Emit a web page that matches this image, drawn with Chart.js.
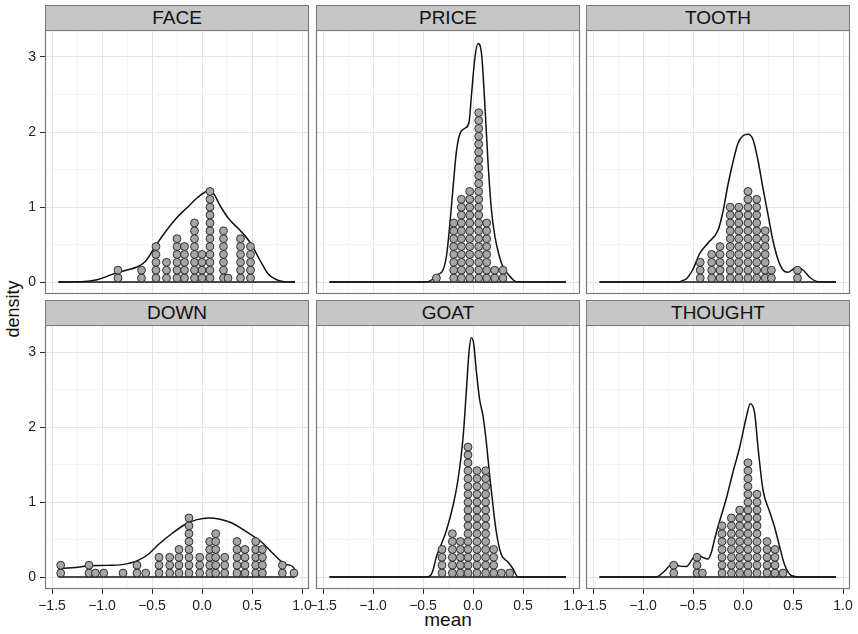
<!DOCTYPE html>
<html>
<head>
<meta charset="utf-8">
<title>density of mean by word</title>
<script src="https://cdn.jsdelivr.net/npm/chart.js@4.4.1/dist/chart.umd.min.js"></script>
<style>
  html, body { margin: 0; padding: 0; background: #ffffff; }
  #wrap { position: relative; width: 858px; height: 634px; overflow: hidden;
          font-family: "Liberation Sans", Arial, Helvetica, sans-serif; color: #111111; }
  #wrap canvas { position: absolute; left: 0; top: 0; }
  .strip { position: absolute; box-sizing: border-box; background: #c6c6c6;
           border: 1px solid #7a7a7a; font-size: 19px; line-height: 24px; text-align: center; }
  .axis-title { position: absolute; white-space: nowrap; }
</style>
</head>
<body>
<div id="wrap">
  <div class="axis-title" style="left:13px; top:309px; font-size:18px; transform: translate(-50%,-50%) rotate(-90deg);">density</div>
  <div class="axis-title" style="left:448px; top:620px; font-size:19px; transform: translate(-50%,-50%);">mean</div>
</div>
<script>
// ---- axis ranges and breaks ----
const X_MIN = -1.57, X_MAX = 1.07;
const Y_MIN = -0.16, Y_MAX = 3.36;
const X_MAJOR = [-1.5, -1.0, -0.5, 0.0, 0.5, 1.0];
const X_LABELS = ['−1.5', '−1.0', '−0.5', '0.0', '0.5', '1.0'];
const X_MINOR = [-1.25, -0.75, -0.25, 0.25, 0.75];
const Y_MAJOR = [0, 1, 2, 3];
const Y_LABELS = ['0', '1', '2', '3'];
const Y_MINOR = [0.5, 1.5, 2.5];

// height of one stacked dot, in density units
const DOT_STEP = 0.105;

// ---- FACE ----
const faceStackX = [-0.84, -0.605, -0.46, -0.355, -0.25, -0.175, -0.075, 0.0, 0.08, 0.215, 0.26, 0.385, 0.485];
const faceStackN = [2, 2, 5, 3, 6, 5, 8, 4, 12, 7, 1, 6, 5];
const faceCurveX = [-1.435, -1.2, -1.05, -0.95, -0.86, -0.75, -0.65, -0.57, -0.46, -0.36, -0.25, -0.15, -0.05, 0.02, 0.07, 0.12, 0.18, 0.27, 0.38, 0.48, 0.58, 0.66, 0.73, 0.82, 0.93];
const faceCurveY = [0, 0.005, 0.03, 0.075, 0.12, 0.16, 0.2, 0.27, 0.49, 0.68, 0.86, 0.99, 1.12, 1.19, 1.22, 1.17, 1.02, 0.84, 0.69, 0.53, 0.29, 0.11, 0.04, 0.005, 0];

// ---- PRICE ----
const priceStackX = [-0.366, -0.193, -0.116, -0.033, 0.057, 0.137, 0.217, 0.30];
const priceStackN = [1, 8, 11, 12, 22, 8, 2, 2];
const priceCurveX = [-1.435, -0.5, -0.45, -0.4, -0.35, -0.3, -0.265, -0.235, -0.2, -0.165, -0.13, -0.08, -0.04, -0.015, 0.02, 0.05, 0.085, 0.115, 0.15, 0.185, 0.22, 0.26, 0.3, 0.36, 0.43, 0.93];
const priceCurveY = [0, 0, 0.005, 0.04, 0.1, 0.16, 0.35, 0.72, 1.25, 1.75, 1.98, 2.05, 2.13, 2.5, 3.0, 3.18, 3.05, 2.45, 1.6, 0.95, 0.6, 0.36, 0.2, 0.09, 0.005, 0];

// ---- TOOTH ----
const toothStackX = [-0.428, -0.313, -0.23, -0.128, -0.042, 0.05, 0.137, 0.222, 0.284, 0.545];
const toothStackN = [3, 4, 5, 10, 10, 12, 11, 7, 2, 2];
const toothCurveX = [-1.435, -0.65, -0.6, -0.56, -0.5, -0.433, -0.35, -0.25, -0.2, -0.15, -0.1, -0.05, 0.0, 0.05, 0.1, 0.15, 0.2, 0.25, 0.3, 0.35, 0.4, 0.45, 0.5, 0.54, 0.6, 0.67, 0.75, 0.93];
const toothCurveY = [0, 0, 0.02, 0.05, 0.17, 0.38, 0.52, 0.69, 0.94, 1.3, 1.6, 1.85, 1.95, 1.97, 1.9, 1.62, 1.25, 0.9, 0.55, 0.3, 0.16, 0.13, 0.17, 0.2, 0.16, 0.06, 0.005, 0];

// ---- DOWN ----
const downStackX = [-1.413, -1.13, -1.066, -0.983, -0.79, -0.65, -0.563, -0.43, -0.323, -0.23, -0.13, -0.023, 0.077, 0.137, 0.227, 0.35, 0.43, 0.537, 0.604, 0.804, 0.92];
const downStackN = [2, 2, 1, 1, 1, 2, 1, 3, 3, 4, 8, 3, 5, 6, 3, 5, 4, 5, 4, 2, 1];
const downCurveX = [-1.435, -1.434, -1.3, -1.13, -0.95, -0.8, -0.65, -0.53, -0.43, -0.3, -0.17, -0.05, 0.07, 0.18, 0.3, 0.42, 0.6, 0.72, 0.85, 0.929, 0.93];
const downCurveY = [0, 0.1, 0.125, 0.15, 0.155, 0.165, 0.215, 0.31, 0.44, 0.58, 0.7, 0.765, 0.787, 0.77, 0.72, 0.625, 0.46, 0.3, 0.165, 0.1, 0];

// ---- GOAT ----
const goatStackX = [-0.31, -0.206, -0.126, -0.05, 0.04, 0.127, 0.207, 0.284, 0.367];
const goatStackN = [4, 6, 5, 17, 14, 14, 4, 1, 1];
const goatCurveX = [-1.435, -0.46, -0.42, -0.4, -0.366, -0.316, -0.266, -0.2, -0.15, -0.1, -0.066, -0.04, -0.016, 0.007, 0.033, 0.067, 0.1, 0.133, 0.167, 0.2, 0.233, 0.283, 0.35, 0.4, 0.45, 0.93];
const goatCurveY = [0, 0, 0.03, 0.09, 0.27, 0.44, 0.62, 0.95, 1.3, 1.85, 2.49, 3.0, 3.19, 3.11, 2.75, 2.36, 2.15, 1.8, 1.35, 0.95, 0.6, 0.3, 0.2, 0.11, 0, 0];

// ---- THOUGHT ----
const thoughtStackX = [-0.693, -0.46, -0.406, -0.21, -0.116, -0.033, 0.05, 0.14, 0.24, 0.32, 0.4];
const thoughtStackN = [2, 3, 1, 7, 8, 9, 15, 11, 5, 4, 1];
const thoughtCurveX = [-1.435, -0.87, -0.8, -0.733, -0.69, -0.633, -0.566, -0.5, -0.46, -0.4, -0.35, -0.316, -0.283, -0.25, -0.166, -0.1, -0.033, 0.033, 0.073, 0.117, 0.15, 0.2, 0.267, 0.317, 0.367, 0.417, 0.483, 0.567, 0.93];
const thoughtCurveY = [0, 0, 0.06, 0.15, 0.185, 0.145, 0.14, 0.25, 0.3, 0.26, 0.24, 0.33, 0.51, 0.67, 1.05, 1.4, 1.73, 2.13, 2.31, 2.18, 1.73, 1.16, 0.87, 0.66, 0.4, 0.16, 0.02, 0, 0];

const panels = [
  { name: 'FACE',    sx: faceStackX,    sn: faceStackN,    cx: faceCurveX,    cy: faceCurveY },
  { name: 'PRICE',   sx: priceStackX,   sn: priceStackN,   cx: priceCurveX,   cy: priceCurveY },
  { name: 'TOOTH',   sx: toothStackX,   sn: toothStackN,   cx: toothCurveX,   cy: toothCurveY },
  { name: 'DOWN',    sx: downStackX,    sn: downStackN,    cx: downCurveX,    cy: downCurveY },
  { name: 'GOAT',    sx: goatStackX,    sn: goatStackN,    cx: goatCurveX,    cy: goatCurveY },
  { name: 'THOUGHT', sx: thoughtStackX, sn: thoughtStackN, cx: thoughtCurveX, cy: thoughtCurveY }
];

// ---- page layout of the facet grid ----
const PAGE_W = 858, PAGE_H = 634;
const PANEL_W = 264, PANEL_H = 264;
const COL_LEFT = [45, 316, 586];
const ROW_TOP = [30, 325];
const STRIP_H = 25;
const X_AXIS_H = 30;

const GRID_MAJOR = '#e4e4e4';
const GRID_MINOR = '#f5f5f5';
const TICK_COLOR = '#2a2a2a';
const TEXT_COLOR = '#222222';
const FONT_FAMILY = "'Liberation Sans', Arial, Helvetica, sans-serif";

Chart.defaults.font.family = FONT_FAMILY;

function stackPoints(xs, ns) {
  const pts = [];
  xs.forEach((x, k) => {
    for (let i = 0; i < ns[k]; i++) pts.push({ x: x, y: (i + 0.5) * DOT_STEP });
  });
  return pts;
}

function curvePoints(xs, ys) {
  return xs.map((x, k) => ({ x: x, y: ys[k] }));
}

// grey frame drawn over each panel
const panelFrame = {
  id: 'panelFrame',
  afterDraw(chart) {
    const { ctx, chartArea: a } = chart;
    ctx.save();
    ctx.strokeStyle = '#7a7a7a';
    ctx.lineWidth = 1.2;
    ctx.strokeRect(a.left + 0.5, a.top + 0.5, a.right - a.left - 1, a.bottom - a.top - 1);
    ctx.restore();
  }
};

const wrap = document.getElementById('wrap');

panels.forEach((p, i) => {
  const row = Math.floor(i / 3), col = i % 3;
  const left = COL_LEFT[col], top = ROW_TOP[row];
  const showY = col === 0, showX = row === 1;
  const yAxisW = showY ? left : 0;
  const xAxisH = showX ? X_AXIS_H : 0;

  const canvas = document.createElement('canvas');
  canvas.width = PAGE_W;
  canvas.height = PAGE_H;
  wrap.appendChild(canvas);

  const strip = document.createElement('div');
  strip.className = 'strip';
  strip.style.left = left + 'px';
  strip.style.top = (top - STRIP_H) + 'px';
  strip.style.width = PANEL_W + 'px';
  strip.style.height = (STRIP_H + 1) + 'px';
  strip.textContent = p.name;
  wrap.appendChild(strip);

  const isMajorX = v => X_MAJOR.includes(v);
  const isMajorY = v => Y_MAJOR.includes(v);

  new Chart(canvas, {
    type: 'scatter',
    data: {
      datasets: [
        {
          data: stackPoints(p.sx, p.sn),
          showLine: false,
          pointRadius: 3.95,
          pointBackgroundColor: '#a6a6a6',
          pointBorderColor: '#1a1a1a',
          pointBorderWidth: 0.85,
          order: 0
        },
        {
          data: curvePoints(p.cx, p.cy),
          showLine: true,
          pointRadius: 0,
          borderColor: '#111111',
          borderWidth: 1.5,
          cubicInterpolationMode: 'monotone',
          order: 1
        },
        {
          data: [{ x: p.cx[0], y: 0 }, { x: p.cx[p.cx.length - 1], y: 0 }],
          showLine: true,
          pointRadius: 0,
          borderColor: '#111111',
          borderWidth: 1.5,
          order: 2
        }
      ]
    },
    options: {
      responsive: false,
      animation: false,
      devicePixelRatio: 1,
      events: [],
      layout: {
        autoPadding: false,
        padding: {
          left: left - yAxisW,
          top: top,
          right: PAGE_W - (left + PANEL_W),
          bottom: PAGE_H - (top + PANEL_H) - xAxisH
        }
      },
      plugins: { legend: { display: false }, tooltip: { enabled: false }, title: { display: false } },
      scales: {
        x: {
          type: 'linear',
          min: X_MIN,
          max: X_MAX,
          afterBuildTicks: s => { s.ticks = X_MAJOR.concat(X_MINOR).sort((a, b) => a - b).map(v => ({ value: v })); },
          afterFit: s => { s.height = xAxisH; s.paddingLeft = 0; s.paddingRight = 0; s.paddingTop = 0; s.paddingBottom = 0; },
          border: { display: false },
          grid: {
            color: c => (c.tick && isMajorX(c.tick.value)) ? GRID_MAJOR : GRID_MINOR,
            lineWidth: 1,
            drawTicks: showX,
            tickLength: 5,
            tickWidth: 1,
            tickColor: c => (c.tick && isMajorX(c.tick.value)) ? TICK_COLOR : 'rgba(0,0,0,0)'
          },
          ticks: {
            display: showX,
            autoSkip: false,
            maxRotation: 0,
            minRotation: 0,
            padding: 4,
            color: TEXT_COLOR,
            font: { size: 14 },
            callback: v => { const k = X_MAJOR.indexOf(v); return k >= 0 ? X_LABELS[k] : ''; }
          }
        },
        y: {
          type: 'linear',
          min: Y_MIN,
          max: Y_MAX,
          afterBuildTicks: s => { s.ticks = Y_MAJOR.concat(Y_MINOR).sort((a, b) => a - b).map(v => ({ value: v })); },
          afterFit: s => { s.width = yAxisW; s.paddingLeft = 0; s.paddingRight = 0; s.paddingTop = 0; s.paddingBottom = 0; },
          border: { display: false },
          grid: {
            color: c => (c.tick && isMajorY(c.tick.value)) ? GRID_MAJOR : GRID_MINOR,
            lineWidth: 1,
            drawTicks: showY,
            tickLength: 5,
            tickWidth: 1,
            tickColor: c => (c.tick && isMajorY(c.tick.value)) ? TICK_COLOR : 'rgba(0,0,0,0)'
          },
          ticks: {
            display: showY,
            autoSkip: false,
            padding: 4,
            color: TEXT_COLOR,
            font: { size: 14 },
            callback: v => { const k = Y_MAJOR.indexOf(v); return k >= 0 ? Y_LABELS[k] : ''; }
          }
        }
      }
    },
    plugins: [panelFrame]
  });
});
</script>
</body>
</html>
